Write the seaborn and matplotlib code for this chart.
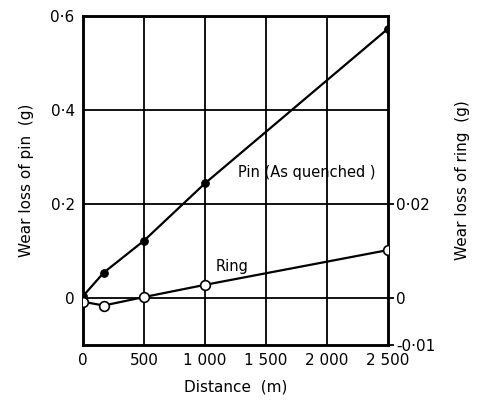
import numpy as np
import pandas as pd
import matplotlib
matplotlib.use("Agg")
import matplotlib.pyplot as plt
import seaborn as sns

# values
distance = [0, 170, 500, 1000, 2500]
pin_loss = [0.004, 0.054, 0.122, 0.244, 0.573]
ring_loss = [-0.0008, -0.0016, 0.0002, 0.0028, 0.0102]

x_ticks = [0, 500, 1000, 1500, 2000, 2500]
x_labels = ["0", "500", "1 000", "1 500", "2 000", "2 500"]
pin_ticks = [0, 0.2, 0.4, 0.6]
pin_labels = ["0", "0·2", "0·4", "0·6"]
ring_ticks = [-0.01, 0, 0.02]
ring_labels = ["-0·01", "0", "0·02"]

df = pd.DataFrame({"Distance": distance, "Pin": pin_loss, "Ring": ring_loss})

sns.set_style("white")
plt.rcParams["font.family"] = ["DejaVu Sans"]
plt.rcParams["text.color"] = "black"
plt.rcParams["axes.labelcolor"] = "black"
plt.rcParams["xtick.color"] = "black"
plt.rcParams["ytick.color"] = "black"

fig = plt.figure(figsize=(4.78, 4.08), dpi=100)
ax = fig.add_axes([83 / 478, 1 - 345 / 408, 305 / 478, 329 / 408])
ax2 = ax.twinx()

# grid lines
for xv in x_ticks[1:-1]:
    ax.axvline(xv, color="black", lw=1.3, zorder=1)
for yv in pin_ticks[:-1]:
    ax.axhline(yv, color="black", lw=1.3, zorder=1)

sns.lineplot(data=df, x="Distance", y="Pin", ax=ax, color="black", lw=1.6,
             marker="o", markersize=5.5, markerfacecolor="black",
             markeredgecolor="black", zorder=3)
sns.lineplot(data=df, x="Distance", y="Ring", ax=ax2, color="black", lw=1.6,
             marker="o", markersize=7, markerfacecolor="white",
             markeredgecolor="black", markeredgewidth=1.2, zorder=3)

ax.set_xlim(0, 2500)
ax.set_ylim(-0.1, 0.6)
ax2.set_ylim(-0.01, 0.06)

ax.set_xticks(x_ticks)
ax.set_xticklabels(x_labels, fontsize=11)
ax.set_yticks(pin_ticks)
ax.set_yticklabels(pin_labels, fontsize=11)
ax2.set_yticks(ring_ticks)
ax2.set_yticklabels(ring_labels, fontsize=11)

ax.tick_params(axis="both", length=0, pad=6)
ax2.tick_params(axis="y", length=4, width=1.3, pad=2, direction="out")

ax.set_xlabel("Distance  (m)", fontsize=11, labelpad=8)
ax.set_ylabel("Wear loss of pin  (g)", fontsize=11, labelpad=12)
ax2.set_ylabel("Wear loss of ring  (g)", fontsize=11, labelpad=14)

for a in (ax, ax2):
    for s in a.spines.values():
        s.set_linewidth(1.8)
        s.set_color("black")

ax.text(1830, 0.268, "Pin (As quenched )", fontsize=10.5, ha="center", va="center")
ax2.text(1220, 0.0068, "Ring", fontsize=10.5, ha="center", va="center")

fig.savefig("out.png", dpi=100)
